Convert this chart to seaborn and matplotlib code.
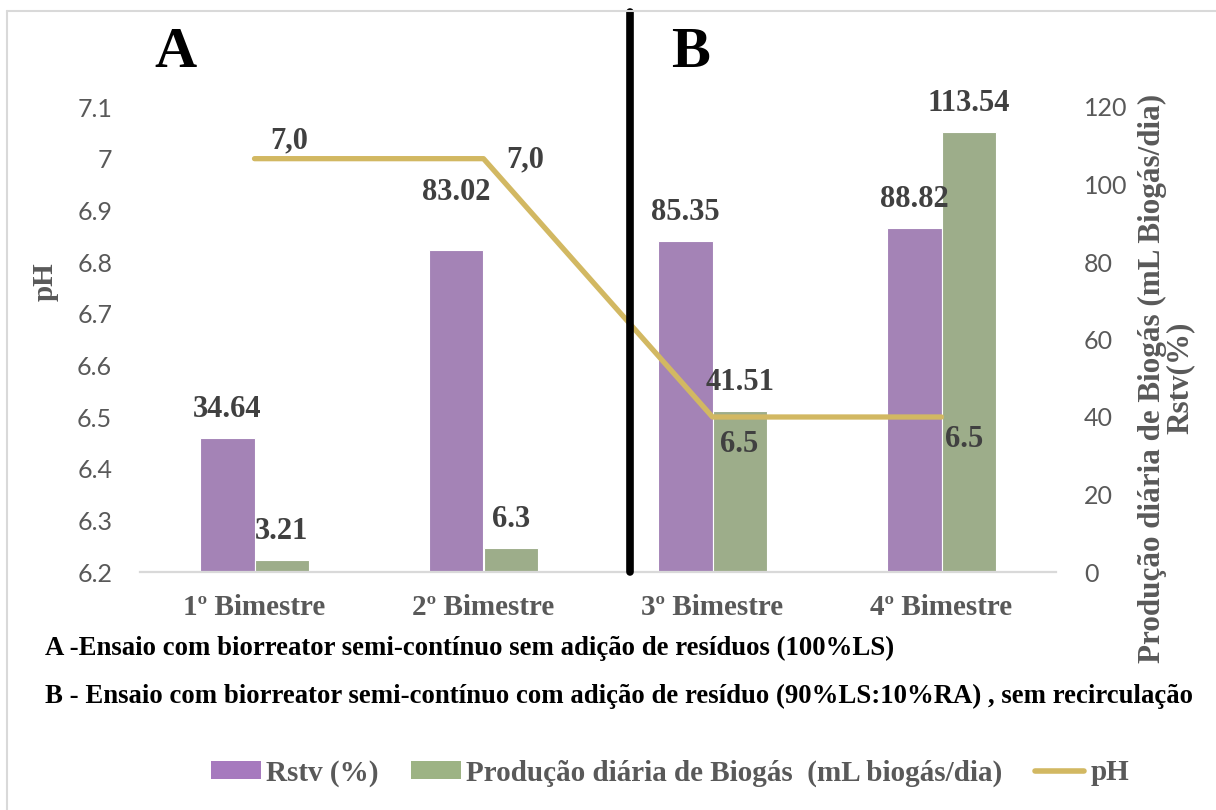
import numpy as np
import pandas as pd
import matplotlib
matplotlib.use("Agg")
import matplotlib.pyplot as plt
import matplotlib.transforms as mtransforms
from matplotlib.patches import Patch
from matplotlib.lines import Line2D
import seaborn as sns

# ---- data ----
periods = ["1º Bimestre", "2º Bimestre", "3º Bimestre", "4º Bimestre"]
rstv = [34.64, 83.02, 85.35, 88.82]
biogas = [3.21, 6.3, 41.51, 113.54]
ph = [7.0, 7.0, 6.5, 6.5]
ph_labels = ["7,0", "7,0", "6.5", "6.5"]
series_names = ["Rstv (%)", "Produção diária de Biogás  (mL biogás/dia)"]
ph_ticks = [6.2, 6.3, 6.4, 6.5, 6.6, 6.7, 6.8, 6.9, 7.0, 7.1]
ph_tick_labels = ["6.2", "6.3", "6.4", "6.5", "6.6", "6.7", "6.8", "6.9", "7", "7.1"]
right_ticks = [0, 20, 40, 60, 80, 100, 120]
caption_a = "A -Ensaio com biorreator semi-contínuo sem adição de resíduos (100%LS)"
caption_b = ("B - Ensaio com biorreator semi-contínuo com adição de resíduo "
             "(90%LS:10%RA) , sem recirculação")
right_title = "Produção diária de Biogás (mL Biogás/dia)\nRstv(%)"

# ---- style ----
sns.set_style("white")
SERIF = "Liberation Serif"
SANS = "Lato"
plt.rcParams["font.family"] = [SERIF, "DejaVu Sans"]

PURPLE = "#A67ABE"
GREEN = "#9DB384"
GOLD = "#D2B862"
GRAY_TXT = "#595959"
LABEL_TXT = "#404040"
AXIS_GRAY = "#D9D9D9"

fig = plt.figure(figsize=(12.16, 8.1), dpi=100)
ax_bar = fig.add_axes([140 / 1216, 1 - 572 / 810, 916 / 1216, 465 / 810])

df = pd.DataFrame({
    "periodo": periods * 2,
    "serie": [series_names[0]] * 4 + [series_names[1]] * 4,
    "valor": rstv + biogas,
})
sns.barplot(data=df, x="periodo", y="valor", hue="serie",
            palette=[PURPLE, GREEN], width=0.48, ax=ax_bar,
            edgecolor="white", linewidth=0.8, legend=False)

# pH axis drawn above the bars
ax_ph = ax_bar.twinx()
ax_ph.set_zorder(ax_bar.get_zorder() + 1)
ax_ph.patch.set_visible(False)

# right-hand scale: bars
ax_bar.set_ylim(0, 120)
ax_bar.set_xlim(-0.5, 3.5)
ax_bar.set_xlabel("")
ax_bar.set_ylabel("")
ax_bar.yaxis.tick_right()
ax_bar.set_yticks(right_ticks)
ax_bar.set_yticklabels([str(t) for t in right_ticks], fontfamily=SANS,
                       fontsize=18, color=GRAY_TXT)
ax_bar.tick_params(axis="y", which="both", left=False, right=False,
                   labelleft=False, labelright=True, length=0, pad=20)
ax_bar.set_xticks(range(len(periods)))
ax_bar.set_xticklabels(periods, fontfamily=SERIF, fontweight="bold",
                       fontsize=21, color=GRAY_TXT)
ax_bar.tick_params(axis="x", length=0, pad=16)
for side in ["top", "left", "right"]:
    ax_bar.spines[side].set_visible(False)
ax_bar.spines["bottom"].set_color(AXIS_GRAY)
ax_bar.spines["bottom"].set_linewidth(1.6)

# left-hand scale: pH line
sns.lineplot(x=np.arange(len(periods)), y=ph, ax=ax_ph, color=GOLD,
             linewidth=3.8, solid_capstyle="round", solid_joinstyle="round")
ax_ph.set_ylim(6.2, 7.1)
ax_ph.set_xlim(-0.5, 3.5)
ax_ph.set_yticks(ph_ticks)
ax_ph.set_yticklabels(ph_tick_labels, fontfamily=SANS, fontsize=18,
                      color=GRAY_TXT)
ax_ph.tick_params(axis="y", which="both", left=False, right=False,
                  labelleft=True, labelright=False, length=0, pad=20)
ax_ph.set_ylabel("")
for side in ax_ph.spines:
    ax_ph.spines[side].set_visible(False)

# value labels for the bars
bar_tr = ax_bar.transData
label_style = dict(fontfamily=SERIF, fontweight="bold", fontsize=22,
                   color=LABEL_TXT, ha="center", va="bottom",
                   textcoords="offset points", xycoords=bar_tr)
bar_lifts = [[10, 31, 10, 10], [10, 10, 10, 10]]
for container, values, lifts in zip(ax_bar.containers, [rstv, biogas], bar_lifts):
    for patch, val, lift in zip(container.patches, values, lifts):
        cx = patch.get_x() + patch.get_width() / 2
        ax_ph.annotate(f"{val:g}", (cx, patch.get_height()),
                       xytext=(0, lift), **label_style)

# value labels for the pH line
ph_offsets = [(25, 13), (30, -1), (19, -20), (16.5, -16.5)]
for i, (val, txt) in enumerate(zip(ph, ph_labels)):
    dx, dy = ph_offsets[i]
    ax_ph.annotate(txt, (i, val), xytext=(dx, dy), textcoords="offset points",
                   fontfamily=SERIF, fontweight="bold", fontsize=22,
                   color=LABEL_TXT, ha="center", va="center")

# divider between the two trials
divider_tr = mtransforms.blended_transform_factory(ax_bar.transData,
                                                   ax_bar.transAxes)
ax_ph.plot([1.64, 1.64], [0, (572 - 12) / 465], transform=divider_tr,
           color="black", linewidth=5.5, clip_on=False, zorder=5)

# panel letters
fig.text(175 / 1216, 1 - 53 / 810, "A", fontfamily=SERIF, fontweight="bold",
         fontsize=42, ha="center", va="center", color="black")
fig.text(690 / 1216, 1 - 53 / 810, "B", fontfamily=SERIF, fontweight="bold",
         fontsize=42, ha="center", va="center", color="black")

# axis titles
fig.text(45 / 1216, 1 - 282 / 810, "pH", rotation=90, fontfamily=SERIF,
         fontweight="bold", fontsize=21, color=GRAY_TXT,
         ha="center", va="center")
fig.text(1166 / 1216, 1 - 378 / 810, right_title, rotation=90,
         fontfamily=SERIF, fontweight="bold", fontsize=22.4, color=GRAY_TXT,
         ha="center", va="center", multialignment="center", linespacing=0.95)

# captions
fig.text(45 / 1216, 1 - 648 / 810, caption_a, fontfamily=SERIF,
         fontweight="bold", fontsize=19.3, color="black", ha="left", va="center")
fig.text(45 / 1216, 1 - 696 / 810, caption_b, fontfamily=SERIF,
         fontweight="bold", fontsize=19.3, color="black", ha="left", va="center")

# legend
handles = [Patch(facecolor=PURPLE, edgecolor="none"),
           Patch(facecolor=GREEN, edgecolor="none"),
           Line2D([0], [0], color=GOLD, linewidth=4, solid_capstyle="round")]
fig.legend(handles, series_names + ["pH"], loc="center",
           bbox_to_anchor=(670 / 1216, 1 - 773 / 810), ncol=3, frameon=False,
           prop={"family": SERIF, "weight": "bold", "size": 21},
           labelcolor=GRAY_TXT, handlelength=1.7, handleheight=0.6,
           handletextpad=0.2, columnspacing=1.1)

# outer frame (top and left edges)
fig.add_artist(Line2D([7 / 1216, 7 / 1216], [0, 1 - 11 / 810],
                      transform=fig.transFigure, color=AXIS_GRAY, linewidth=1.5))
fig.add_artist(Line2D([7 / 1216, 1], [1 - 11 / 810, 1 - 11 / 810],
                      transform=fig.transFigure, color=AXIS_GRAY, linewidth=1.5))

fig.savefig("out.png", dpi=100)
